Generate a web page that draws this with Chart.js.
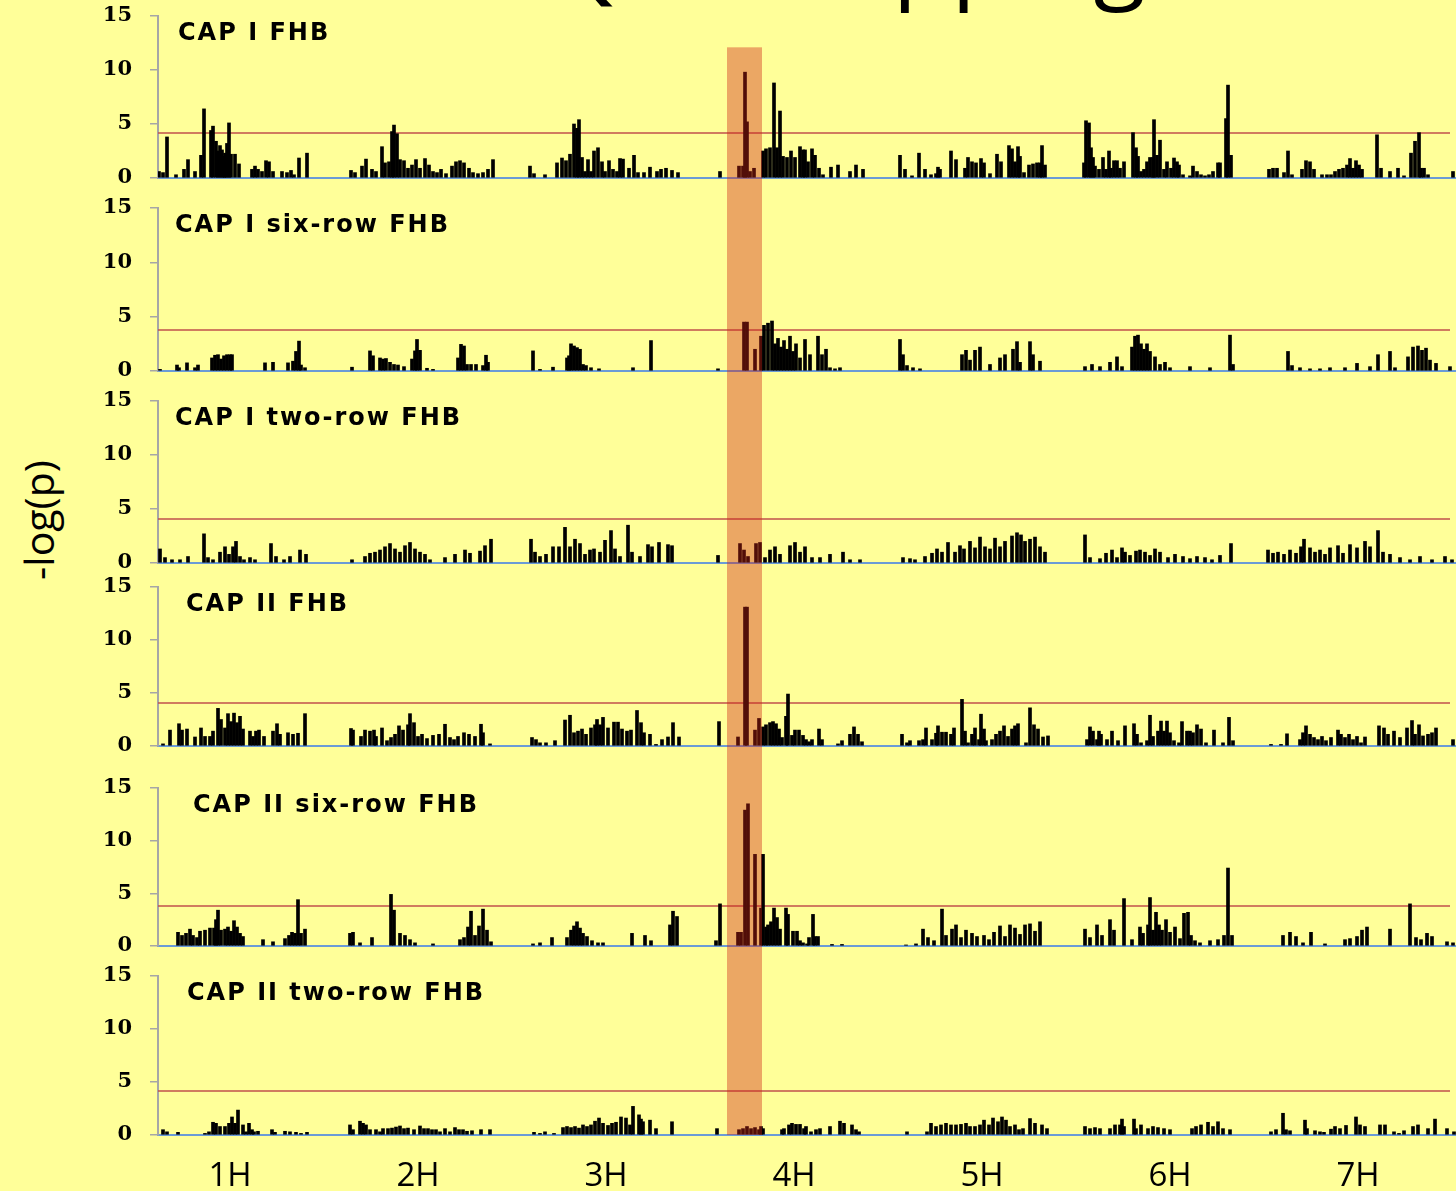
<!DOCTYPE html>
<html lang="en">
<head>
<meta charset="UTF-8">
<title>QTL mapping</title>
<script src="https://cdn.jsdelivr.net/npm/chart.js"></script>
<style>
  html, body { margin: 0; padding: 0; background: #ffff99; }
  #page { position: relative; width: 1456px; height: 1191px; overflow: hidden; background: #ffff99; }
  #title { position: absolute; left: 548px; top: -95px; font-family: "Open Sans", sans-serif; font-size: 96px; line-height: 96px; white-space: nowrap; color: #000; }
  #ylabel { position: absolute; left: 38px; top: 520px; transform: translate(-50%, -50%) rotate(-90deg); font-family: "Open Sans", sans-serif; font-size: 41px; white-space: nowrap; color: #000; }
  canvas { position: absolute; left: 0; }
</style>
</head>
<body>
<div id="page">
  <div id="title">QTL mapping</div>
  <div id="ylabel">-log(p)</div>
</div>
<script>
// genome position (cM, cumulative) and -log(p) for each marker
const chromLabels = ['1H', '2H', '3H', '4H', '5H', '6H', '7H'];
const chromCenters = [72, 260, 448, 636, 824, 1012, 1200];
const genomeEnd = 1298;

const panelNames = ['CAP I FHB', 'CAP I six-row FHB', 'CAP I two-row FHB', 'CAP II FHB', 'CAP II six-row FHB', 'CAP II two-row FHB'];
const thresholds = [4.17, 3.77, 4.07, 4.06, 3.8, 4.15];

// highlighted QTL region on 4H
const qtlRegion = [569, 604];
const qtlTop = 12.1;

const capIFhb = [
  [1,0.6],[5,0.5],[9,3.8],[18,0.3],[26,0.8],[30,1.7],[37,0.6],[43,2.1],[46,6.4],[53,4.4],[55,4.8],[58,3.4],[60,2.5],[62,3.0],[64,2.6],[66,2.0],[67,2.3],[69,3.2],[71,5.1],[73,2.2],[77,2.2],[81,1.3],[94,0.8],[97,1.1],[100,0.8],[104,0.6],[108,1.6],[111,1.5],[115,0.6],[124,0.6],[129,0.5],[133,0.7],[136,0.3],[141,1.85],[149,2.3],
  [193,0.7],[197,0.5],[204,1.1],[208,1.75],[214,0.8],[218,0.6],[224,2.9],[227,1.4],[231,1.5],[234,4.3],[236,4.9],[239,4.1],[242,1.7],[246,1.6],[250,0.9],[254,1.2],[258,1.7],[262,0.9],[267,1.8],[271,1.2],[275,0.6],[279,0.5],[283,0.8],[288,0.4],[294,1.1],[298,1.5],[302,1.6],[306,1.4],[311,0.9],[315,0.5],[320,0.4],[325,0.5],[330,0.8],[335,1.7],
  [372,1.1],[376,0.4],[387,0.3],[399,1.4],[404,1.85],[408,1.6],[412,2.2],[416,5.0],[419,4.6],[421,5.4],[424,1.9],[427,0.6],[430,1.7],[433,0.6],[436,2.5],[440,2.8],[444,1.5],[447,0.6],[451,1.6],[455,0.8],[459,0.6],[462,1.8],[465,1.75],[471,0.9],[476,2.1],[480,0.5],[486,0.5],[492,1.0],[499,0.6],[503,0.8],[508,0.9],[514,0.7],[520,0.5],
  [562,0.6],[581,1.1],[585,1.1],[587,9.8],[589,5.2],[592,0.6],[596,0.9],[605,2.5],[608,2.7],[612,2.8],[616,8.8],[619,2.8],[622,6.2],[625,2.0],[629,1.9],[633,2.5],[637,1.9],[642,2.9],[645,2.6],[647,2.6],[650,1.5],[654,2.7],[657,2.1],[661,0.9],[665,0.3],[673,1.0],[680,1.2],[692,0.6],[698,1.2],[705,0.8],
  [742,2.1],[747,0.8],[754,0.2],[761,2.3],[767,0.8],[773,0.3],[778,0.4],[780,1.0],[782,0.8],[793,2.5],[798,1.7],[807,0.9],[810,1.9],[814,1.5],[818,1.4],[823,1.8],[826,1.4],[832,0.4],[839,2.2],[843,1.5],[851,3.0],[854,2.7],[857,1.5],[860,2.9],[862,2.0],[866,0.5],[871,1.2],[875,1.3],[879,1.4],[882,1.4],[884,3.0],[887,1.2],
  [926,1.4],[928,5.3],[931,5.1],[933,2.8],[935,1.9],[937,1.1],[941,0.8],[945,1.9],[948,0.8],[951,2.5],[953,0.9],[956,1.6],[959,1.6],[962,0.9],[966,1.5],[975,4.2],[978,2.8],[980,2.0],[983,0.6],[986,0.8],[989,1.5],[992,1.9],[995,1.9],[996,5.4],[999,2.1],[1002,3.5],[1006,0.8],[1009,1.5],[1013,0.9],[1016,1.85],[1019,1.5],[1021,1.2],[1025,0.3],[1032,0.2],[1035,1.1],[1039,0.6],[1043,0.3],[1047,0.2],[1051,0.3],[1055,0.6],[1060,1.4],[1062,1.4],[1068,5.5],[1070,8.6],[1073,2.1],
  [1111,0.8],[1115,0.9],[1119,0.9],[1126,0.5],[1130,2.5],[1134,0.3],[1144,0.8],[1148,1.6],[1152,1.5],[1156,0.8],[1164,0.3],[1169,0.3],[1173,0.3],[1177,0.6],[1181,0.8],[1185,0.9],[1189,1.2],[1192,1.8],[1195,0.9],[1198,1.6],[1201,1.2],[1204,0.8],[1219,4.0],[1223,0.9],[1232,0.6],[1240,0.9],[1246,0.2],[1253,2.3],[1257,3.4],[1261,4.2],[1263,0.9],[1266,0.9],[1270,0.3],[1295,0.6]
];

const capISixRow = [
  [2,0.15],[19,0.55],[21,0.3],[29,0.75],[37,0.3],[40,0.55],[54,1.2],[57,1.45],[60,1.5],[63,1.1],[66,1.4],[69,1.5],[72,1.5],[74,1.5],[107,0.75],[115,0.8],[130,0.75],[135,0.9],[138,1.8],[141,2.75],[143,0.55],[147,0.3],
  [194,0.35],[212,1.85],[215,1.4],[222,1.2],[225,1.1],[228,1.15],[232,0.8],[236,0.6],[240,0.55],[246,0.4],[254,1.1],[257,1.85],[259,2.9],[262,1.9],[269,0.25],[275,0.15],[300,1.2],[303,2.45],[306,2.3],[309,0.6],[313,0.6],[318,0.6],[325,0.5],[328,1.45],[330,0.8],
  [375,1.85],[382,0.15],[395,0.35],[409,1.2],[411,1.4],[413,2.5],[416,2.3],[419,2.15],[422,2.0],[425,0.6],[428,0.5],[433,0.3],[441,0.2],[475,0.3],[493,2.8],
  [560,0.2],[586,4.5],[589,4.5],[597,2.0],[603,3.2],[606,4.2],[610,4.4],[614,4.6],[617,2.5],[620,3.0],[623,2.2],[626,2.8],[629,2.0],[632,3.2],[635,1.8],[638,2.5],[642,1.2],[647,2.9],[652,1.5],[660,3.2],[664,1.5],[668,2.0],[672,0.3],[677,0.2],[682,0.3],
  [742,2.9],[745,1.5],[749,0.5],[755,0.3],[762,0.2],[804,1.5],[808,1.9],[812,1.0],[817,1.9],[822,2.2],[832,0.6],[842,1.2],[847,1.5],[855,2.0],[859,2.7],[862,0.8],[872,2.7],[875,1.5],[882,0.9],
  [927,0.4],[934,0.6],[942,0.4],[952,0.8],[959,1.3],[964,0.4],[974,2.2],[977,3.2],[980,3.3],[983,2.5],[986,2.0],[989,2.5],[992,1.8],[997,1.3],[1002,0.6],[1007,0.8],[1012,0.3],[1032,0.4],[1052,0.3],[1072,3.3],[1075,0.6],
  [1130,1.8],[1134,0.5],[1142,0.3],[1152,0.2],[1162,0.2],[1172,0.3],[1187,0.3],[1199,0.7],[1212,0.4],[1220,1.5],[1232,1.8],[1237,0.3],[1250,1.3],[1255,2.2],[1260,2.3],[1264,1.9],[1268,2.1],[1272,1.0],[1278,0.7],[1292,0.4]
];

const capITwoRow = [
  [2,1.3],[7,0.5],[14,0.3],[22,0.3],[30,0.6],[46,2.7],[50,0.5],[55,0.3],[62,1.0],[67,1.5],[71,0.8],[75,1.5],[78,2.0],[82,0.6],[86,0.3],[92,0.5],[97,0.3],[113,1.8],[118,0.6],[126,0.3],[132,0.6],[142,1.2],[148,0.8],
  [194,0.3],[207,0.6],[212,0.9],[217,1.0],[222,1.2],[227,1.5],[232,1.8],[237,1.3],[242,1.0],[247,1.6],[252,1.9],[257,1.3],[262,1.0],[267,0.8],[272,0.3],[287,0.5],[297,0.8],[307,1.2],[312,0.9],[322,1.1],[327,1.6],[333,2.2],
  [373,2.2],[377,1.0],[382,0.6],[388,0.8],[395,1.5],[401,1.5],[407,3.3],[412,1.5],[417,2.2],[422,1.8],[427,0.8],[432,1.2],[436,1.3],[442,1.0],[447,2.1],[453,3.0],[457,1.3],[462,0.6],[470,3.5],[474,1.0],[482,0.6],[490,1.7],[494,1.5],[501,1.9],[510,1.7],[514,1.6],
  [560,0.7],[582,1.8],[586,1.2],[590,0.6],[598,1.8],[602,1.9],[607,0.5],[612,1.2],[617,1.5],[622,0.8],[632,1.6],[637,1.9],[642,1.0],[647,1.5],[654,0.5],[662,0.5],[672,0.8],[685,1.0],[692,0.3],[702,0.3],
  [745,0.5],[752,0.4],[757,0.3],[767,0.6],[774,0.9],[779,1.3],[784,1.0],[790,1.9],[797,1.0],[802,1.6],[806,1.3],[812,2.0],[817,1.4],[822,2.4],[827,1.5],[832,1.3],[837,2.3],[842,1.5],[847,2.0],[854,2.5],[859,2.8],[863,2.6],[867,2.0],[872,2.2],[877,2.4],[882,1.5],[887,1.0],
  [927,2.6],[932,0.5],[942,0.4],[948,0.9],[954,1.2],[959,0.5],[964,1.4],[967,1.0],[972,0.7],[978,1.1],[982,1.2],[987,1.0],[992,0.7],[997,1.3],[1002,1.0],[1010,0.5],[1017,0.8],[1025,0.6],[1032,0.4],[1039,0.6],[1047,0.5],[1054,0.3],[1062,0.7],[1073,1.8],
  [1110,1.2],[1115,0.9],[1120,1.0],[1126,0.8],[1132,1.2],[1138,0.9],[1143,1.5],[1146,2.2],[1152,1.4],[1157,1.0],[1162,1.2],[1167,0.8],[1172,1.4],[1180,1.6],[1185,0.9],[1192,1.7],[1199,1.4],[1207,2.0],[1212,1.5],[1220,3.0],[1225,1.0],[1232,0.8],[1242,0.5],[1252,0.3],[1262,0.6],[1274,0.3],[1287,0.6],[1294,0.3]
];

const capIIFhb = [
  [5,0.2],[12,1.5],[21,2.1],[24,1.5],[29,1.6],[37,0.85],[43,1.7],[47,0.9],[52,0.9],[55,1.4],[60,3.55],[63,2.5],[67,1.7],[70,3.05],[73,2.3],[76,3.1],[79,2.2],[82,2.8],[85,1.6],[92,1.4],[95,0.9],[98,1.4],[101,1.5],[106,0.9],[115,1.4],[119,2.1],[122,1.1],[130,1.25],[135,1.1],[140,1.2],[147,3.05],
  [193,1.65],[195,1.5],[203,0.9],[207,1.5],[212,1.4],[216,1.5],[218,0.9],[224,1.7],[229,0.5],[233,0.8],[237,1.1],[241,1.9],[245,1.5],[250,2.0],[252,3.05],[256,2.2],[260,0.9],[264,1.1],[269,0.7],[275,1.0],[281,1.1],[287,2.05],[292,0.8],[296,0.6],[300,0.9],[306,1.25],[311,1.1],[317,0.9],[323,2.05],[325,1.25],[332,0.2],
  [374,0.8],[378,0.6],[382,0.3],[388,0.3],[397,0.5],[407,2.45],[412,2.9],[416,1.25],[420,1.4],[424,1.6],[428,1.1],[433,1.7],[437,2.0],[439,2.5],[442,2.0],[445,2.7],[450,1.7],[456,2.25],[460,2.25],[464,1.6],[469,1.4],[473,1.5],[479,3.35],[483,2.2],[486,1.25],[492,1.1],[498,0.15],[504,0.6],[510,0.85],[515,2.2],[521,0.85],
  [561,2.3],[580,0.85],[587,13.1],[589,13.1],[597,1.5],[601,2.6],[605,1.8],[608,2.0],[612,2.2],[615,2.3],[618,2.1],[621,1.6],[624,0.8],[628,2.8],[630,4.9],[634,1.0],[637,1.5],[641,1.5],[645,1.0],[648,0.6],[651,0.4],[654,0.6],[661,1.6],[664,0.6],[680,0.2],[684,0.5],[692,1.1],[696,1.8],[700,1.1],[704,0.4],
  [744,1.1],[749,0.3],[752,0.5],[761,0.5],[765,0.6],[768,1.7],[774,0.6],[778,1.2],[780,1.9],[784,1.3],[788,1.3],[793,1.1],[796,1.7],[804,4.4],[807,1.4],[810,0.3],[814,1.1],[817,1.7],[821,0.6],[823,3.0],[826,1.6],[828,0.5],[834,0.6],[838,1.1],[842,1.4],[846,1.9],[850,0.9],[854,1.6],[857,1.9],[860,2.1],[868,0.3],[872,3.6],[876,2.0],[880,1.6],[885,0.85],[890,0.95],
  [929,0.6],[932,1.8],[935,1.4],[939,0.6],[941,1.4],[943,1.1],[949,0.6],[954,1.4],[960,0.5],[967,1.9],[976,2.1],[979,1.1],[983,0.3],[989,0.5],[992,2.9],[995,0.9],[1000,1.4],[1003,2.35],[1006,1.4],[1009,2.35],[1012,1.25],[1016,0.5],[1021,0.3],[1024,2.3],[1029,1.4],[1032,1.4],[1035,1.25],[1039,2.0],[1043,1.6],[1048,0.3],[1056,1.5],[1065,0.3],[1071,2.7],[1075,0.5],
  [1113,0.15],[1123,0.15],[1129,1.15],[1142,0.6],[1145,1.25],[1148,1.9],[1152,1.1],[1156,0.8],[1160,0.6],[1164,0.9],[1168,0.5],[1173,0.8],[1180,1.5],[1183,1.1],[1187,0.8],[1191,1.1],[1195,0.6],[1199,0.9],[1203,0.3],[1207,0.85],[1221,1.9],[1226,1.7],[1230,1.1],[1236,1.4],[1242,0.8],[1249,1.7],[1254,2.4],[1257,1.1],[1261,2.0],[1265,0.95],[1270,1.1],[1274,1.25],[1278,1.7],[1295,0.6]
];

const capIISixRow = [
  [20,1.3],[24,1.0],[28,1.2],[32,1.6],[35,1.0],[39,0.8],[42,1.4],[47,1.5],[52,1.7],[56,1.7],[58,2.5],[60,3.4],[63,1.5],[67,1.6],[70,1.8],[73,1.4],[76,2.4],[79,1.8],[82,1.2],[85,0.9],[105,0.6],[115,0.4],[127,0.7],[131,1.0],[134,1.3],[137,1.2],[140,4.4],[143,1.2],[147,1.6],
  [192,1.2],[195,1.3],[202,0.3],[214,0.8],[233,4.9],[236,3.4],[242,1.2],[247,1.0],[252,0.6],[257,0.3],[275,0.2],[302,0.6],[306,0.8],[310,1.8],[313,3.3],[317,1.0],[321,1.9],[325,3.5],[329,1.5],[333,0.4],
  [375,0.2],[382,0.3],[394,0.8],[409,0.8],[413,1.5],[416,1.9],[419,2.3],[422,1.7],[425,1.2],[429,0.9],[434,0.5],[440,0.3],[445,0.3],[474,1.2],[487,1.0],[493,0.5],[512,2.0],[515,3.3],[519,2.8],
  [558,0.5],[562,4.0],[580,1.3],[583,1.3],[587,12.9],[590,13.5],[597,8.7],[603,3.6],[605,8.7],[608,1.8],[610,2.0],[613,2.3],[616,3.6],[619,2.7],[622,1.6],[628,3.6],[630,3.0],[635,1.4],[639,1.4],[642,0.5],[645,0.3],[649,0.2],[651,0.8],[655,3.0],[657,0.9],[660,0.9],[674,0.15],[684,0.15],
  [748,0.1],[758,0.2],[765,1.6],[770,0.8],[776,0.5],[784,3.5],[788,1.0],[794,1.6],[798,2.0],[803,0.8],[808,1.5],[814,1.2],[819,0.9],[826,1.0],[831,0.6],[836,1.3],[842,1.9],[847,0.9],[852,2.0],[857,1.7],[862,1.1],[867,2.0],[872,2.1],[877,1.4],[882,2.3],
  [927,1.6],[932,0.8],[939,2.0],[944,1.0],[952,2.5],[956,1.5],[966,4.5],[974,0.6],[982,1.8],[985,1.2],[990,2.0],[992,4.6],[995,1.5],[998,3.2],[1001,2.0],[1004,1.5],[1008,2.5],[1012,1.3],[1017,1.8],[1022,0.7],[1026,3.1],[1030,3.2],[1033,1.0],[1037,0.5],[1042,0.3],[1052,0.5],[1060,0.6],[1066,1.0],[1070,7.4],[1074,1.0],
  [1125,1.0],[1132,1.3],[1138,0.9],[1145,0.3],[1153,1.3],[1167,0.2],[1187,0.6],[1192,0.7],[1199,0.9],[1204,1.5],[1209,1.8],[1232,1.6],[1252,4.0],[1258,0.8],[1263,0.6],[1269,1.2],[1274,0.9],[1289,0.4],[1295,0.3]
];

const capIITwoRow = [
  [5,0.5],[9,0.3],[20,0.25],[47,0.15],[51,0.3],[55,1.2],[58,1.1],[62,0.8],[67,0.8],[71,1.1],[74,1.7],[77,1.1],[80,2.35],[85,0.95],[88,0.3],[91,1.1],[94,0.5],[96,0.3],[100,0.35],[114,0.5],[117,0.25],[127,0.35],[132,0.3],[138,0.25],[143,0.15],[149,0.25],
  [192,0.95],[195,0.5],[202,1.3],[205,1.1],[208,0.95],[212,0.5],[218,0.5],[222,0.3],[225,0.6],[230,0.6],[234,0.65],[238,0.75],[242,0.85],[246,0.6],[250,0.65],[256,0.5],[262,0.85],[266,0.6],[270,0.6],[274,0.5],[278,0.5],[282,0.3],[287,0.6],[292,0.3],[297,0.7],[301,0.5],[305,0.5],[309,0.35],[314,0.4],[323,0.5],[332,0.5],
  [376,0.25],[382,0.15],[387,0.3],[396,0.15],[405,0.7],[409,0.8],[413,0.7],[417,0.8],[421,0.65],[425,0.95],[429,0.8],[433,0.95],[437,1.3],[441,1.6],[445,1.1],[450,0.9],[454,1.1],[458,1.2],[463,1.7],[468,1.6],[472,0.95],[475,2.7],[481,1.9],[483,1.5],[485,1.25],[492,1.4],[498,0.6],[514,1.25],
  [559,0.6],[581,0.5],[585,0.6],[589,0.8],[593,0.6],[597,0.7],[601,0.5],[603,0.8],[605,0.6],[624,0.5],[626,0.6],[631,0.95],[634,1.1],[638,1.0],[642,1.0],[646,0.6],[648,0.8],[653,0.3],[658,0.5],[662,0.6],[672,0.8],[682,1.3],[686,1.1],[694,0.95],[698,0.5],[701,0.3],
  [749,0.3],[769,0.3],[773,1.1],[778,0.8],[783,0.95],[788,1.1],[793,0.95],[798,0.95],[803,1.0],[808,1.1],[812,0.8],[817,0.8],[822,0.95],[826,1.4],[831,0.95],[835,1.6],[840,1.25],[844,1.7],[848,1.4],[852,0.8],[857,0.95],[861,0.5],[865,0.6],[872,1.55],[877,1.1],[884,0.95],[889,0.6],
  [927,0.8],[932,0.6],[937,0.7],[942,0.6],[952,0.6],[957,0.95],[962,0.95],[964,1.5],[966,0.8],[976,1.5],[978,0.6],[983,0.95],[990,0.6],[995,0.8],[1000,0.7],[1006,0.6],[1012,0.5],[1034,0.6],[1038,0.8],[1043,0.95],[1050,1.2],[1055,0.8],[1060,1.25],[1065,0.6],[1072,0.5],
  [1113,0.3],[1118,0.5],[1125,2.05],[1128,0.5],[1132,0.4],[1147,1.4],[1149,0.6],[1157,0.4],[1162,0.3],[1166,0.25],[1173,0.55],[1177,0.8],[1182,0.6],[1188,0.9],[1198,1.7],[1202,0.95],[1207,0.8],[1222,0.95],[1227,0.95],[1236,0.3],[1241,0.15],[1246,0.4],[1255,0.8],[1260,0.95],[1270,0.6],[1277,1.5],[1289,0.6],[1296,0.3]
];

const panelValues = [capIFhb, capISixRow, capITwoRow, capIIFhb, capIISixRow, capIITwoRow];

// page layout: pixel rows of the 15 and 0 lines of each panel, name offset from the axis
const panelRows = [[16, 178], [208, 371], [401, 563], [587, 746], [788, 946], [976, 1135]];
const nameOffsets = [20, 17, 17, 28, 35, 29];
const axisLeft = 158;
const pageW = 1456, pageH = 1191;

const panelName = {
  id: 'panelName',
  afterDraw(chart, args, opts) {
    const { ctx, chartArea } = chart;
    ctx.save();
    ctx.font = 'bold 24px "DejaVu Sans"';
    ctx.letterSpacing = '2px';
    ctx.fillStyle = '#000';
    ctx.textBaseline = 'middle';
    ctx.fillText(opts.text, chartArea.left + opts.dx, chartArea.top + 18);
    ctx.restore();
  }
};

const qtlBand = {
  id: 'qtlBand',
  afterDatasetsDraw(chart, args, opts) {
    const { ctx, chartArea, scales } = chart;
    const x0 = scales.x.getPixelForValue(qtlRegion[0]);
    const x1 = scales.x.getPixelForValue(qtlRegion[1]);
    const top = opts.first ? scales.y.getPixelForValue(qtlTop) : 0;
    const bottom = opts.last ? chartArea.bottom : chart.height;
    ctx.save();
    ctx.fillStyle = 'rgba(205, 35, 20, 0.4)';
    ctx.fillRect(x0, top, x1 - x0, bottom - top);
    ctx.restore();
  }
};

const page = document.getElementById('page');

panelValues.forEach((values, i) => {
  const last = i === panelValues.length - 1;
  const [top15, bottom0] = panelRows[i];
  const canvasTop = top15 - 12;
  const canvasBottom = last ? pageH : panelRows[i + 1][0] - 12;
  const padBottom = last ? 0 : canvasBottom - bottom0;

  const canvas = document.createElement('canvas');
  canvas.width = pageW;
  canvas.height = canvasBottom - canvasTop;
  canvas.style.top = canvasTop + 'px';
  page.appendChild(canvas);

  new Chart(canvas, {
    type: 'bar',
    data: {
      datasets: [
        {
          type: 'bar',
          data: values.map(([x, y]) => ({ x, y })),
          backgroundColor: '#000',
          barThickness: 3,
          order: 0
        },
        {
          type: 'line',
          data: [{ x: 0, y: thresholds[i] }, { x: genomeEnd - 6, y: thresholds[i] }],
          borderColor: '#c0504d',
          borderWidth: 1.5,
          pointRadius: 0,
          order: 1
        }
      ]
    },
    options: {
      responsive: false,
      animation: false,
      events: [],
      layout: { padding: { top: 12, bottom: padBottom, left: 0, right: 0 } },
      plugins: {
        legend: { display: false },
        tooltip: { enabled: false },
        panelName: { text: panelNames[i], dx: nameOffsets[i] },
        qtlBand: { first: i === 0, last: last }
      },
      scales: {
        x: {
          type: 'linear',
          min: 0,
          max: genomeEnd,
          offset: false,
          grid: { display: false, drawTicks: false },
          border: { color: '#6b9bd6', width: 2 },
          afterBuildTicks: s => { s.ticks = chromCenters.map(v => ({ value: v })); },
          ticks: {
            display: last,
            autoSkip: false,
            maxRotation: 0,
            padding: 22,
            color: '#000',
            font: { family: '"Open Sans"', size: 33 },
            callback: (v, idx) => chromLabels[idx]
          },
          afterFit: s => {
            s.height = last ? pageH - bottom0 : 0;
            s.paddingLeft = 0;
            s.paddingRight = 0;
          }
        },
        y: {
          min: 0,
          max: 15,
          ticks: {
            stepSize: 5,
            padding: 18,
            color: '#000',
            font: { family: '"DejaVu Serif"', weight: 'bold', size: 21 }
          },
          grid: { drawOnChartArea: false, tickLength: 8, color: '#a6a6a6', lineWidth: 1.5 },
          border: { color: '#a6a6a6', width: 2 },
          afterFit: s => {
            s.width = axisLeft;
            s.paddingTop = 0;
            s.paddingBottom = 0;
          }
        }
      }
    },
    plugins: [qtlBand, panelName]
  });
});
</script>
</body>
</html>
